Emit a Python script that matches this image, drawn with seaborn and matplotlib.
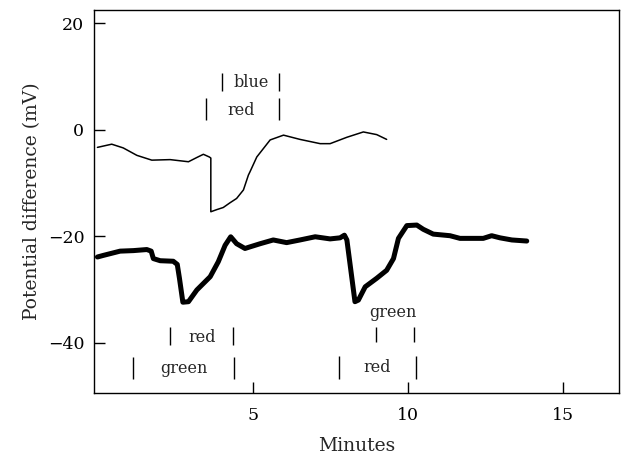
import matplotlib
matplotlib.use("Agg")
import matplotlib.pyplot as plt
import seaborn as sns
import pandas as pd

# ---- data ----
thin_x = [0.0, 0.46, 0.83, 1.27, 1.75, 2.34, 2.93, 3.20, 3.41, 3.60, 3.65, 3.65,
          3.84, 4.05, 4.27, 4.48, 4.70, 4.86, 4.91, 5.13, 5.56, 5.99, 6.52, 7.17,
          7.49, 8.03, 8.56, 8.99, 9.31]
thin_y = [-3.3, -2.7, -3.4, -4.8, -5.7, -5.6, -6.0, -5.2, -4.6, -5.1, -5.3, -15.4,
          -15.0, -14.6, -13.7, -12.9, -11.3, -8.5, -7.9, -5.1, -1.9, -1.0, -1.8, -2.6,
          -2.6, -1.4, -0.4, -0.9, -1.8]

thick_x = [0.0, 0.19, 0.73, 1.16, 1.59, 1.73, 1.80, 2.02, 2.44, 2.57, 2.64, 2.75,
           2.93, 3.20, 3.63, 3.89, 4.11, 4.29, 4.48, 4.75, 4.91, 5.24, 5.66, 6.09,
           6.52, 7.01, 7.49, 7.81, 7.95, 8.03, 8.29, 8.40, 8.62, 8.99, 9.31, 9.53,
           9.69, 9.96, 10.28, 10.49, 10.81, 11.35, 11.67, 12.42, 12.69, 12.96, 13.34,
           13.82]
thick_y = [-23.9, -23.6, -22.8, -22.7, -22.5, -22.8, -24.2, -24.6, -24.7, -25.3, -27.9, -32.4,
           -32.3, -30.1, -27.6, -24.8, -21.7, -20.1, -21.4, -22.3, -22.0, -21.4, -20.7, -21.2,
           -20.7, -20.1, -20.5, -20.3, -19.8, -20.7, -32.3, -32.0, -29.5, -27.9, -26.4, -24.2,
           -20.4, -18.0, -17.9, -18.7, -19.6, -19.9, -20.4, -20.4, -19.9, -20.3, -20.7,
           -20.9]

# stimulus annotations: label, start, end, bar bottom, bar top, text x, text y
stim_labels = ["blue", "red", "red", "green", "green", "red"]
stim_start = [4.00, 3.49, 2.32, 1.14, 8.96, 7.79]
stim_end = [5.84, 5.85, 4.38, 4.41, 10.19, 10.25]
stim_lo = [7.3, 1.8, -40.5, -46.9, -39.8, -46.9]
stim_hi = [10.7, 6.0, -37.0, -42.7, -37.0, -42.6]
stim_tx = [4.95, 4.61, 3.36, 2.79, 9.51, 8.99]
stim_ty = [8.8, 3.7, -39.0, -44.9, -34.4, -44.7]

x_ticks = [5, 10, 15]
y_ticks = [20, 0, -20, -40]
y_tick_labels = ["20", "0", "\u221220", "\u221240"]

# ---- plotting ----
sns.set_theme(style="ticks")
plt.rcParams["font.family"] = ["DejaVu Serif"]
plt.rcParams["mathtext.fontset"] = "dejavuserif"

fig = plt.figure(figsize=(6.21, 4.59), dpi=100)
ax = fig.add_axes([0.1514, 0.1445, 0.8459, 0.8335])

thin = pd.DataFrame({"t": thin_x, "v": thin_y})
thick = pd.DataFrame({"t": thick_x, "v": thick_y})
sns.lineplot(data=thin, x="t", y="v", ax=ax, color="black", linewidth=1.1,
             estimator=None, sort=False)
sns.lineplot(data=thick, x="t", y="v", ax=ax, color="black", linewidth=3.6,
             estimator=None, sort=False, solid_joinstyle="round",
             solid_capstyle="round")

for lab, s, e, lo, hi, tx, ty in zip(stim_labels, stim_start, stim_end,
                                     stim_lo, stim_hi, stim_tx, stim_ty):
    ax.vlines([s, e], lo, hi, color="black", linewidth=1.0)
    ax.text(tx, ty, lab, ha="center", va="center", fontsize=11.5)

ax.set_xlim(-0.11, 16.8)
ax.set_ylim(-49.4, 22.5)
ax.set_xticks(x_ticks)
ax.set_yticks(y_ticks)
ax.set_yticklabels(y_tick_labels)
ax.tick_params(axis="both", direction="in", length=8, width=1.0,
               labelsize=12.5, colors="black")
ax.tick_params(axis="x", pad=10)
ax.tick_params(axis="y", pad=7)
for sp in ax.spines.values():
    sp.set_visible(True)
    sp.set_linewidth(1.0)
    sp.set_color("black")

ax.set_xlabel("Minutes", fontsize=13.5, labelpad=10)
ax.set_ylabel("Potential difference (mV)", fontsize=13.5, labelpad=5)

fig.savefig("out.png", dpi=100, facecolor="white")
